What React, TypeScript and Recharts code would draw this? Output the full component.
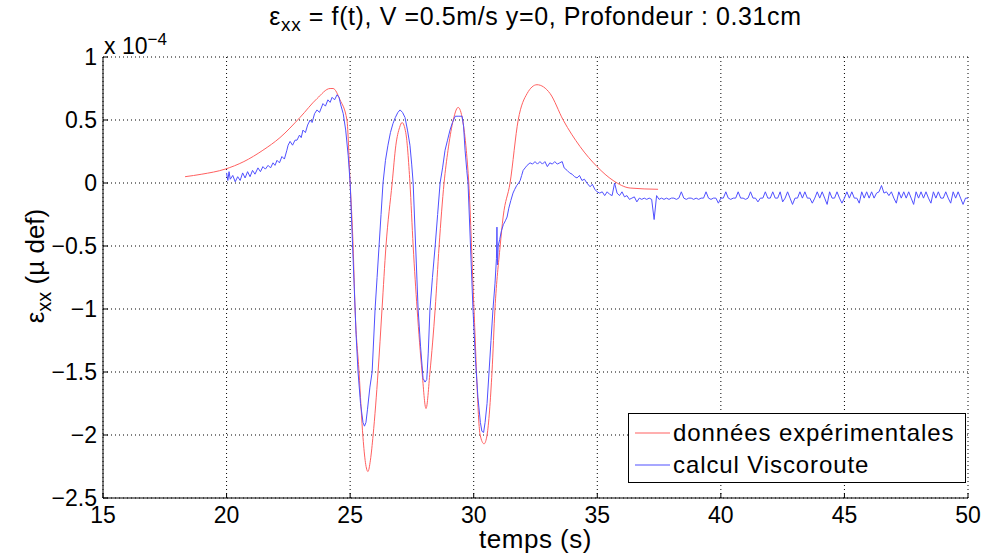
import React from 'react';
import { LineChart, Line, XAxis, YAxis, CartesianGrid } from 'recharts';

// strain values are in units of 1e-4 (as shown on the axis)
const expTime = [
  18.32, 19.0, 19.94, 20.7, 21.47, 22.16, 22.97, 23.66, 24.19, 24.31, 24.59, 24.87, 25.0,
  25.12, 25.2, 25.36, 25.52, 25.62, 25.72, 25.82, 25.93, 26.13, 26.29, 26.45, 26.7,
  26.85, 27.0, 27.1, 27.25, 27.42, 27.55, 27.71, 27.91, 28.07, 28.23, 28.44, 28.6, 28.8,
  28.96, 29.15, 29.37, 29.55, 29.7, 29.8, 30.01, 30.26, 30.42, 30.54, 30.74, 30.86, 31.07,
  31.19, 31.47, 31.8, 32.16, 32.56, 33.09, 33.62, 34.3, 34.99, 35.64, 36.33, 37.46,
];
const expStrain = [
  0.05, 0.07, 0.11, 0.17, 0.26, 0.36, 0.52, 0.67, 0.75, 0.75, 0.66, 0.5, 0.0,
  -0.5, -1.0, -1.5, -2.02, -2.22, -2.29, -2.2, -2.0, -1.5, -1.0, -0.5, 0.0,
  0.3, 0.44, 0.48, 0.4, 0.0, -0.5, -1.0, -1.5, -1.79, -1.5, -1.0, -0.5, 0.0,
  0.26, 0.48, 0.6, 0.5, 0.26, 0.0, -1.0, -2.0, -2.07, -2.0, -1.5, -1.0, -0.5,
  -0.27, 0.0, 0.5, 0.71, 0.78, 0.71, 0.5, 0.29, 0.13, 0.02, -0.04, -0.05,
];

const vcTime = [
  20.0, 20.05, 20.1, 20.15, 20.25, 20.35, 20.45, 20.55, 20.65, 20.75, 20.85, 20.95,
  21.05, 21.15, 21.27, 21.37, 21.47, 21.57, 21.68, 21.78, 21.88, 21.96, 22.04, 22.14,
  22.24, 22.34, 22.44, 22.49, 22.57, 22.67, 22.77, 22.85, 22.95, 23.02, 23.09, 23.19,
  23.28, 23.38, 23.46, 23.56, 23.66, 23.76, 23.9, 24.0, 24.1, 24.19, 24.27, 24.37,
  24.47, 24.55, 24.62, 24.72, 24.82, 24.92, 25.0, 25.08, 25.16, 25.24, 25.32, 25.42,
  25.52, 25.58, 25.64, 25.7, 25.8, 25.89, 26.01, 26.09, 26.17, 26.25, 26.33, 26.43,
  26.53, 26.63, 26.73, 26.83, 26.93, 27.02, 27.12, 27.22, 27.32, 27.42, 27.49, 27.55,
  27.65, 27.75, 27.85, 27.95, 28.03, 28.1, 28.16, 28.23, 28.33, 28.44, 28.54, 28.64,
  28.74, 28.84, 28.94, 29.04, 29.14, 29.25, 29.4, 29.53, 29.59, 29.65, 29.72, 29.77,
  29.87, 29.97, 30.07, 30.17, 30.27, 30.33, 30.4, 30.46, 30.54, 30.62, 30.7, 30.78,
  30.86, 30.92, 30.94, 30.96, 30.99, 31.05, 31.12, 31.2, 31.28, 31.35, 31.42, 31.5,
  31.59, 31.66, 31.74, 31.82, 31.88, 31.94, 32.0, 32.08, 32.16, 32.28, 32.38, 32.48,
  32.58, 32.68, 32.78, 32.88, 32.98, 33.08, 33.18, 33.28, 33.38, 33.48, 33.58, 33.66,
  33.78, 33.88, 33.98, 34.08, 34.18, 34.28, 34.38, 34.48, 34.58, 34.71, 34.8, 34.9, 34.99,
  35.1, 35.2, 35.3, 35.4, 35.5, 35.6, 35.7, 35.8, 35.9, 36.0,
  36.1, 36.2, 36.3, 36.4, 36.5, 36.6, 36.7, 36.8, 36.9, 37.0,
  37.1, 37.2, 37.3, 37.4, 37.5, 37.6, 37.7, 37.8, 37.9, 38.0,
  38.1, 38.2, 38.3, 38.4, 38.5, 38.6, 38.7, 38.8, 38.9, 39.0,
  39.1, 39.2, 39.3, 39.4, 39.5, 39.6, 39.7, 39.8, 39.9, 40.0,
  40.1, 40.2, 40.3, 40.4, 40.5, 40.6, 40.7, 40.8, 40.9, 41.0,
  41.1, 41.2, 41.3, 41.4, 41.5, 41.6, 41.7, 41.8, 41.9, 42.0,
  42.1, 42.2, 42.3, 42.4, 42.5, 42.6, 42.7, 42.8, 42.9, 43.0,
  43.1, 43.2, 43.3, 43.4, 43.5, 43.6, 43.7, 43.8, 43.9, 44.0,
  44.1, 44.2, 44.3, 44.4, 44.5, 44.6, 44.7, 44.8, 44.9, 45.0,
  45.1, 45.2, 45.3, 45.4, 45.5, 45.6, 45.7, 45.8, 45.9, 46.0,
  46.1, 46.2, 46.3, 46.4, 46.5, 46.6, 46.7, 46.8, 46.9, 47.0,
  47.1, 47.2, 47.3, 47.4, 47.5, 47.6, 47.7, 47.8, 47.9, 48.0,
  48.1, 48.2, 48.3, 48.4, 48.5, 48.6, 48.7, 48.8, 48.9, 49.0,
  49.1, 49.2, 49.3, 49.4, 49.5, 49.6, 49.7, 49.8, 49.9, 50.0,
];
const vcStrain = [
  0.08, 0.02, 0.09, 0.03, 0.06, 0.01, 0.05, 0.02, 0.08, 0.04, 0.09, 0.05,
  0.1, 0.07, 0.12, 0.09, 0.13, 0.11, 0.14, 0.12, 0.16, 0.14, 0.18, 0.16,
  0.21, 0.19, 0.26, 0.3, 0.33, 0.3, 0.34, 0.34, 0.38, 0.36, 0.42, 0.4,
  0.46, 0.5, 0.48, 0.55, 0.58, 0.56, 0.63, 0.61, 0.66, 0.64, 0.68, 0.66,
  0.7, 0.68, 0.62, 0.55, 0.42, 0.22, 0.0, -0.4, -0.8, -1.2, -1.5, -1.75,
  -1.9, -1.93, -1.9, -1.8, -1.62, -1.5, -1.0, -0.75, -0.5, -0.25, 0.0, 0.18,
  0.3, 0.4, 0.47, 0.52, 0.56, 0.58, 0.56, 0.52, 0.42, 0.3, 0.15, 0.0,
  -0.5, -1.0, -1.3, -1.55, -1.58, -1.56, -1.35, -1.0, -0.75, -0.5, -0.25, 0.0,
  0.12, 0.26, 0.34, 0.42, 0.48, 0.53, 0.53, 0.53, 0.45, 0.26, 0.1, 0.0,
  -0.5, -1.0, -1.4, -1.7, -1.9, -1.97, -1.98, -1.9, -1.75, -1.5, -1.25, -1.0,
  -0.8, -0.6, -0.35, -0.65, -0.5, -0.45, -0.38, -0.33, -0.3, -0.27, -0.2, -0.14,
  -0.08, -0.05, -0.02, 0.0, 0.02, 0.06, 0.1, 0.12, 0.14, 0.16, 0.15, 0.17,
  0.15, 0.17, 0.15, 0.17, 0.13, 0.16, 0.15, 0.17, 0.15, 0.16, 0.17, 0.12,
  0.1, 0.08, 0.07, 0.05, 0.04, 0.06, 0.02, 0.03, 0.0, -0.03, -0.01, -0.05, -0.07,
  -0.08, -0.07, -0.1, -0.07, -0.09, -0.1, 0.0, -0.08, -0.1, -0.07,
  -0.11, -0.1, -0.13, -0.12, -0.11, -0.15, -0.12, -0.13, -0.12, -0.13,
  -0.12, -0.13, -0.29, -0.1, -0.13, -0.12, -0.13, -0.12, -0.13, -0.12,
  -0.12, -0.13, -0.12, -0.07, -0.12, -0.13, -0.12, -0.12, -0.13, -0.12,
  -0.13, -0.12, -0.12, -0.07, -0.12, -0.13, -0.12, -0.12, -0.16, -0.12,
  -0.12, -0.07, -0.12, -0.13, -0.12, -0.12, -0.07, -0.12, -0.12, -0.13,
  -0.12, -0.07, -0.12, -0.12, -0.15, -0.12, -0.12, -0.07, -0.12, -0.12,
  -0.07, -0.12, -0.12, -0.07, -0.15, -0.12, -0.07, -0.12, -0.17, -0.12,
  -0.12, -0.07, -0.12, -0.07, -0.12, -0.12, -0.16, -0.12, -0.07, -0.12,
  -0.07, -0.12, -0.17, -0.07, -0.12, -0.12, -0.07, -0.12, -0.16, -0.12,
  -0.07, -0.12, -0.07, -0.12, -0.12, -0.16, -0.07, -0.12, -0.07, -0.12,
  -0.07, -0.12, -0.08, -0.07, -0.02, -0.08, -0.07, -0.1, -0.07, -0.12,
  -0.16, -0.07, -0.12, -0.07, -0.12, -0.07, -0.12, -0.17, -0.07, -0.12,
  -0.07, -0.12, -0.07, -0.12, -0.16, -0.07, -0.12, -0.07, -0.12, -0.12,
  -0.07, -0.12, -0.16, -0.07, -0.12, -0.07, -0.12, -0.17, -0.12, -0.12,
];

const xTicks = [15, 20, 25, 30, 35, 40, 45, 50];
const yTicks = [-2.5, -2, -1.5, -1, -0.5, 0, 0.5, 1];

const seriesNames = ['données expérimentales', 'calcul Viscoroute'];
const RED = '#ff6060';
const BLUE = '#5050ff';
const seriesColors = [RED, BLUE];
const FONT = '"Liberation Sans", Arial, Helvetica, sans-serif';

const expData = expTime.map((t, i) => ({ t, v: expStrain[i] }));
const vcData = vcTime.map((t, i) => ({ t, v: vcStrain[i] }));

const fmtY = (v: number) => (v < 0 ? '\u2212' + Math.abs(v) : String(v));

export default function App() {
  return (
    <div style={{ position: 'absolute', left: 0, top: 0, width: 986, height: 555, background: '#fff', fontFamily: FONT }}>
      <LineChart width={986} height={555} margin={{ top: 57, right: 18, bottom: 0, left: 0 }}>
        <CartesianGrid stroke="#000" strokeDasharray="1 3" />
        <XAxis
          type="number"
          dataKey="t"
          domain={[15, 50]}
          ticks={xTicks}
          interval={0}
          allowDataOverflow
          height={57}
          stroke="#000"
          tickSize={-5}
          tickMargin={14}
          tick={{ fill: '#000', fontSize: 23, fontFamily: FONT }}
        />
        <YAxis
          type="number"
          domain={[-2.5, 1]}
          ticks={yTicks}
          interval={0}
          allowDataOverflow
          width={103}
          stroke="#000"
          tickSize={-5}
          tickMargin={11}
          tickFormatter={fmtY}
          tick={{ fill: '#000', fontSize: 23, fontFamily: FONT }}
        />
        <Line data={expData} dataKey="v" name={seriesNames[0]} type="monotoneX" stroke={RED} strokeWidth={1} dot={false} isAnimationActive={false} />
        <Line data={vcData} dataKey="v" name={seriesNames[1]} type="linear" stroke={BLUE} strokeWidth={1} dot={false} isAnimationActive={false} />
      </LineChart>

      {/* title */}
      <div style={{ position: 'absolute', left: 0, width: 1071, top: 2, textAlign: 'center', fontSize: 25, letterSpacing: 0.6, whiteSpace: 'nowrap' }}>
        ε<sub style={{ fontSize: 19 }}>xx</sub> = f(t), V =0.5m/s y=0, Profondeur : 0.31cm
      </div>

      {/* exponent */}
      <div style={{ position: 'absolute', left: 104, top: 30, fontSize: 23, whiteSpace: 'nowrap' }}>
        x 10<sup style={{ fontSize: 17 }}>−4</sup>
      </div>

      {/* y label */}
      <div
        style={{
          position: 'absolute', left: 38, top: 266, fontSize: 26, whiteSpace: 'nowrap',
          transform: 'translate(-50%, -50%) rotate(-90deg)',
        }}
      >
        ε<sub style={{ fontSize: 20 }}>xx</sub> (µ def)
      </div>

      {/* x label */}
      <div style={{ position: 'absolute', left: 0, width: 1071, top: 524, textAlign: 'center', fontSize: 26, letterSpacing: 0.5, whiteSpace: 'nowrap' }}>
        temps (s)
      </div>

      {/* legend */}
      <div
        style={{
          position: 'absolute', left: 628, top: 413, width: 336, height: 68,
          border: '1px solid #000', background: '#fff', fontSize: 24, letterSpacing: 0.9,
        }}
      >
        {seriesNames.map((name, i) => (
          <div key={name} style={{ display: 'flex', alignItems: 'center', height: 32, marginTop: i === 0 ? 3 : 0, whiteSpace: 'nowrap' }}>
            <svg width={44} height={4} style={{ flex: 'none' }}>
              <line x1={6} y1={2} x2={41} y2={2} stroke={seriesColors[i]} strokeWidth={1.2} />
            </svg>
            <span>{name}</span>
          </div>
        ))}
      </div>
    </div>
  );
}
